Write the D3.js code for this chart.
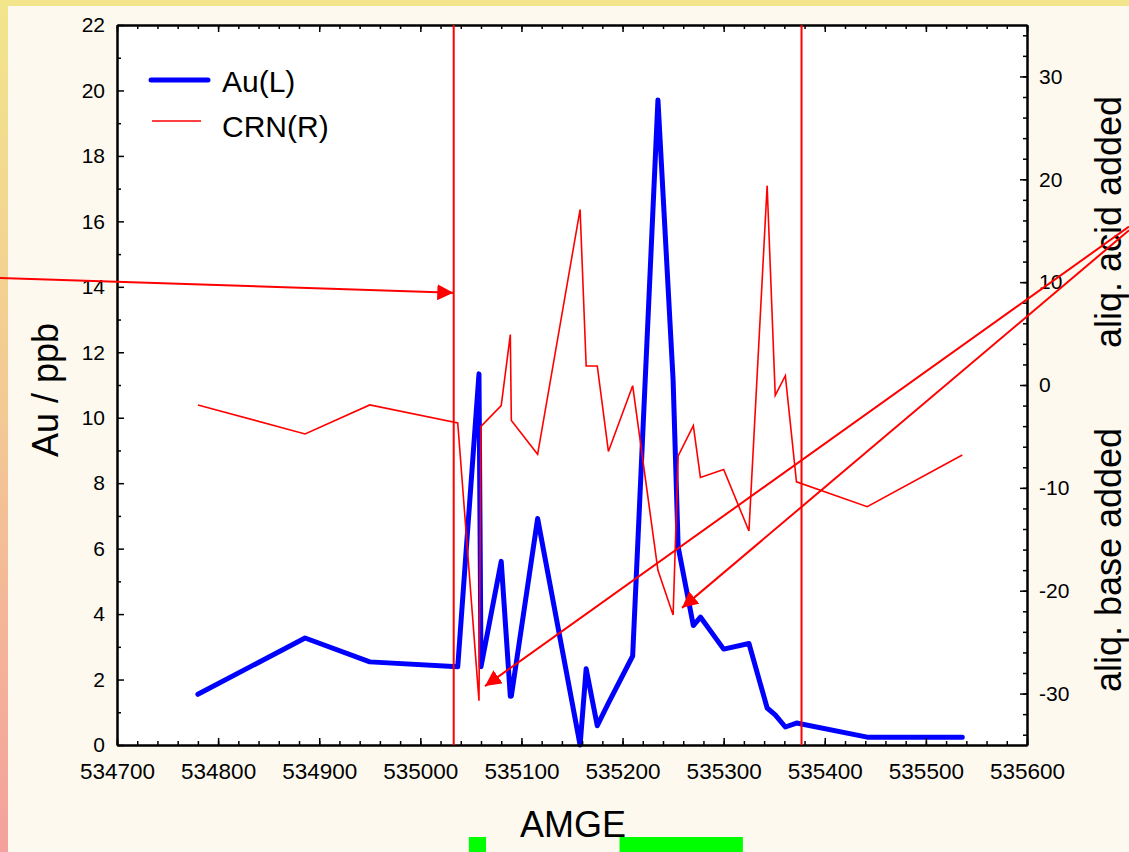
<!DOCTYPE html>
<html>
<head>
<meta charset="utf-8">
<script src="https://cdn.jsdelivr.net/npm/d3@7"></script>
<style>
  html, body { margin: 0; padding: 0; background: #fdf9ef; }
  svg { display: block; font-family: "Liberation Sans", Arial, sans-serif; }
</style>
</head>
<body>
<svg id="chart" width="1129" height="852"></svg>
<script>
// Sample positions along the traverse (AMGE) and the two measured series
const amge = [534780, 534886, 534950, 535037, 535058, 535060, 535080, 535089, 535090, 535116,
              535158, 535164, 535175, 535186, 535210, 535235, 535250, 535255, 535270, 535277,
              535300, 535325, 535343, 535351, 535361, 535372, 535442, 535536];
const au   = [1.55, 3.27, 2.54, 2.39, 11.34, 2.39, 5.61, 1.49, 1.49, 6.92,
              0.0, 2.33, 0.59, 1.28, 2.72, 19.71, 11.15, 6.05, 3.65, 3.91,
              2.93, 3.10, 1.13, 0.92, 0.55, 0.67, 0.24, 0.24];
const crn  = [-1.94, -4.76, -1.94, -3.68, -30.69, -4.02, -2.01, 4.90, -3.44, -6.74,
              17.05, 1.85, 1.85, -6.46, -0.07, -18.02, -22.36, -6.90, -3.96, -8.99,
              -8.22, -14.19, 19.38, -1.01, 0.90, -9.41, -11.83, -6.81];

// Tick values
const xTicks     = d3.range(534700, 535601, 100);
const xMinor     = d3.range(534700, 535601, 20);
const auTicks    = d3.range(0, 23, 2);
const auMinor    = d3.range(1, 22, 2);
const crnTicks   = [-30, -20, -10, 0, 10, 20, 30];
const crnMinor   = d3.range(-34, 35, 2);

// Annotations: boundary lines, pointer arrows (AMGE, Au units) and green intervals
const boundaries = [535033, 535377];
const arrows = [
  { from: [534584.3, 14.27], to: [535032.6, 13.82] },
  { from: [535700.9, 15.84], to: [535064.0, 1.80] },
  { from: [535700.9, 15.73], to: [535258.8, 4.19] }
];
const greenBands = [[535048, 535065], [535197, 535319]];

const W = 1129, H = 852;
const P = { left: 117, right: 1027, top: 25, bottom: 745 };

const svg = d3.select("#chart");
const defs = svg.append("defs");

const grad = defs.append("linearGradient")
  .attr("id", "edgeGrad").attr("x1", 0).attr("y1", 0).attr("x2", 0).attr("y2", 1);
grad.append("stop").attr("offset", "0%").attr("stop-color", "#f2e58c");
grad.append("stop").attr("offset", "50%").attr("stop-color", "#f3c894");
grad.append("stop").attr("offset", "100%").attr("stop-color", "#f4a09c");

defs.append("marker")
  .attr("id", "arrowHead")
  .attr("markerUnits", "userSpaceOnUse")
  .attr("markerWidth", 16).attr("markerHeight", 16)
  .attr("refX", 16).attr("refY", 8)
  .attr("orient", "auto")
  .append("path").attr("d", "M0,0 L16,8 L0,16 Z").attr("fill", "#ff0000");

// Page background and edge strips
svg.append("rect").attr("width", W).attr("height", H).attr("fill", "#fdf9ef");
svg.append("rect").attr("width", W).attr("height", 6).attr("fill", "#f2e58c");
svg.append("rect").attr("width", 8).attr("height", H).attr("fill", "url(#edgeGrad)");

// Plot area
svg.append("rect")
  .attr("x", P.left).attr("y", P.top)
  .attr("width", P.right - P.left).attr("height", P.bottom - P.top)
  .attr("fill", "#ffffff");

const x  = d3.scaleLinear().domain([534700, 535600]).range([P.left, P.right]);
const yL = d3.scaleLinear().domain([0, 22]).range([P.bottom, P.top]);
const yR = d3.scaleLinear().domain([-35, 35]).range([P.bottom, P.top]);

const idx = d3.range(amge.length);

// Au (left axis), thick blue
svg.append("path")
  .attr("d", d3.line().x(i => x(amge[i])).y(i => yL(au[i]))(idx))
  .attr("fill", "none").attr("stroke", "#0000ff")
  .attr("stroke-width", 5).attr("stroke-linejoin", "round").attr("stroke-linecap", "round");

// CRN (right axis), thin red
svg.append("path")
  .attr("d", d3.line().x(i => x(amge[i])).y(i => yR(crn[i]))(idx))
  .attr("fill", "none").attr("stroke", "#ff0000")
  .attr("stroke-width", 1.6).attr("stroke-linejoin", "miter");

// Axes with inward ticks
function styleAxis(g, fs) {
  g.attr("font-family", "\"Liberation Sans\", Arial, sans-serif").attr("font-size", fs);
  g.selectAll(".tick line").attr("stroke", "#000").attr("stroke-width", 1.5);
  g.select(".domain").attr("stroke", "#000").attr("stroke-width", 2);
  g.selectAll("text").attr("fill", "#000");
}
const plain = d => String(d);

svg.append("g").attr("transform", `translate(0,${P.bottom})`)
  .call(d3.axisBottom(x).tickValues(xMinor).tickSize(-4).tickSizeOuter(0).tickFormat(""))
  .call(g => styleAxis(g, 22));
svg.append("g").attr("transform", `translate(0,${P.bottom})`)
  .call(d3.axisBottom(x).tickValues(xTicks).tickSize(-7).tickSizeOuter(0)
        .tickPadding(18).tickFormat(plain))
  .call(g => styleAxis(g, 22.5));

svg.append("g").attr("transform", `translate(0,${P.top})`)
  .call(d3.axisTop(x).tickValues(xMinor).tickSize(-4).tickSizeOuter(0).tickFormat(""))
  .call(g => styleAxis(g, 22));
svg.append("g").attr("transform", `translate(0,${P.top})`)
  .call(d3.axisTop(x).tickValues(xTicks).tickSize(-7).tickSizeOuter(0).tickFormat(""))
  .call(g => styleAxis(g, 22));

svg.append("g").attr("transform", `translate(${P.left},0)`)
  .call(d3.axisLeft(yL).tickValues(auMinor).tickSize(-4).tickSizeOuter(0).tickFormat(""))
  .call(g => styleAxis(g, 21));
svg.append("g").attr("transform", `translate(${P.left},0)`)
  .call(d3.axisLeft(yL).tickValues(auTicks).tickSize(-7).tickSizeOuter(0).tickPadding(12).tickFormat(plain))
  .call(g => styleAxis(g, 21));

svg.append("g").attr("transform", `translate(${P.right},0)`)
  .call(d3.axisRight(yR).tickValues(crnMinor).tickSize(-4).tickSizeOuter(0).tickFormat(""))
  .call(g => styleAxis(g, 21));
svg.append("g").attr("transform", `translate(${P.right},0)`)
  .call(d3.axisRight(yR).tickValues(crnTicks).tickSize(-7).tickSizeOuter(0).tickPadding(12).tickFormat(plain))
  .call(g => styleAxis(g, 21));

// Legend
const legend = svg.append("g");
legend.append("line").attr("x1", 151).attr("x2", 208).attr("y1", 80).attr("y2", 80)
  .attr("stroke", "#0000ff").attr("stroke-width", 5).attr("stroke-linecap", "round");
legend.append("text").attr("x", 222).attr("y", 92).attr("font-size", 30).text("Au(L)");
legend.append("line").attr("x1", 152).attr("x2", 201).attr("y1", 121).attr("y2", 121)
  .attr("stroke", "#ff0000").attr("stroke-width", 1.6);
legend.append("text").attr("x", 222).attr("y", 137).attr("font-size", 30).text("CRN(R)");

// Axis titles
svg.append("text").attr("x", 573).attr("y", 837).attr("text-anchor", "middle")
  .attr("font-size", 36).text("AMGE");
svg.append("text").attr("transform", "translate(58,390) rotate(-90)")
  .attr("text-anchor", "middle").attr("font-size", 36).text("Au / ppb");
svg.append("text").attr("transform", "translate(1121,222) rotate(-90)")
  .attr("text-anchor", "middle").attr("font-size", 36).text("aliq. acid added");
svg.append("text").attr("transform", "translate(1121,560) rotate(-90)")
  .attr("text-anchor", "middle").attr("font-size", 36).text("aliq. base added");

// Green intervals below the axis title
svg.selectAll("rect.band").data(greenBands).join("rect")
  .attr("class", "band")
  .attr("x", d => x(d[0])).attr("width", d => x(d[1]) - x(d[0]))
  .attr("y", 837).attr("height", H - 837)
  .attr("fill", "#00ff00");

// Boundary lines
svg.selectAll("line.boundary").data(boundaries).join("line")
  .attr("class", "boundary")
  .attr("x1", d => x(d)).attr("x2", d => x(d))
  .attr("y1", P.top).attr("y2", P.bottom)
  .attr("stroke", "#ff0000").attr("stroke-width", 2);

// Pointer arrows
svg.selectAll("line.pointer").data(arrows).join("line")
  .attr("class", "pointer")
  .attr("x1", d => x(d.from[0])).attr("y1", d => yL(d.from[1]))
  .attr("x2", d => x(d.to[0])).attr("y2", d => yL(d.to[1]))
  .attr("stroke", "#ff0000").attr("stroke-width", 2)
  .attr("marker-end", "url(#arrowHead)");
</script>
</body>
</html>
